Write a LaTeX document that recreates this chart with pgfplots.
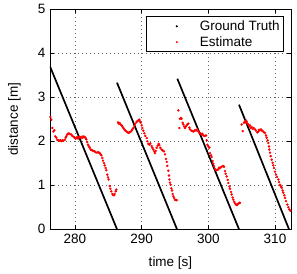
\documentclass[border=0pt]{standalone}
\usepackage{fontspec}
\setmainfont{Liberation Sans}
\usepackage{pgfplots}
\pgfplotsset{compat=1.18}
\begin{document}
\fontsize{13.5bp}{16bp}\selectfont
\begin{tikzpicture}
\begin{axis}[
  width=241bp, height=220bp, scale only axis,
  xmin=276.25, xmax=312.4, ymin=0, ymax=5,
  xtick={280,290,300,310}, ytick={0,1,2,3,4,5},
  tick align=inside, tick pos=both,
  major tick length=4bp,
  tick style={black, line width=0.5bp},
  grid=major,
  major grid style={black!60, line width=0.6bp, dash pattern=on 0.7bp off 3.3bp},
  axis line style={black, line width=0.8bp},
  xlabel={time [s]}, ylabel={distance [m]},
  xlabel style={yshift=-4bp},
  ylabel style={yshift=8bp},
  /pgf/number format/assume math mode=true,
  ticklabel style={font=\fontsize{13.5bp}{16bp}\selectfont},
  label style={font=\fontsize{13.5bp}{16bp}\selectfont},
  unbounded coords=jump,
  legend cell align=left,
  legend style={at={(rel axis cs:0.971,0.968)}, anchor=north east,
    draw=black, line width=0.8bp, inner xsep=2bp, inner ysep=1.8bp,
    font=\fontsize{13.5bp}{16bp}\selectfont,
    row sep=0bp},
]
\addplot[black, line width=1.7bp,
  legend image code/.code={\path[draw=none] (-11bp,0bp) -- (38bp,0bp); \fill[draw=none,black] (17bp,0bp) circle (1.2bp);}]
  coordinates {
  (276.25,3.70) (286.3,0)
  (286.3,nan)
  (286.3,3.33) (295.3,0)
  (295.3,nan)
  (295.35,3.42) (304.6,0)
  (304.6,nan)
  (304.6,2.83) (312.1,0)
};
\addlegendentry{Ground Truth}
\addplot[only marks, mark=*, mark size=1.0bp, red, mark options={draw=red, fill=red},
  legend image code/.code={\path[draw=none] (-11bp,0bp) -- (38bp,0bp); \fill[draw=none,red] (17bp,0bp) circle (1.2bp);}]
  coordinates {
  (276.3,2.55) (276.45,2.49) (276.6,2.3) (276.75,2.22) (276.9,2.25) (277.05,2.11)
  (277.2,2.08) (277.35,2.03) (277.5,2.02) (277.65,2.01) (277.8,2.02) (277.95,2.0)
  (278.1,2.02) (278.25,2.01) (278.45,2.03) (278.6,2.08) (278.7,2.11) (278.85,2.15)
  (278.95,2.17) (279.1,2.18) (279.25,2.16) (279.45,2.15) (279.6,2.12) (279.8,2.1)
  (279.95,2.08) (280.1,2.06) (280.3,2.09) (280.45,2.06) (280.6,2.1) (280.75,2.08)
  (280.9,2.1) (281.05,2.07) (281.2,2.11) (281.35,2.09) (281.45,2.1) (281.6,2.07)
  (281.7,2.04) (281.85,1.98) (281.95,1.92) (282.1,1.88) (282.2,1.85) (282.35,1.81)
  (282.45,1.8) (282.6,1.79) (282.75,1.78) (282.95,1.77) (283.1,1.75) (283.3,1.74)
  (283.45,1.75) (283.6,1.74) (283.7,1.73) (283.85,1.7) (283.95,1.68) (284.1,1.62)
  (284.2,1.56) (284.35,1.5) (284.45,1.45) (284.6,1.39) (284.7,1.34) (284.85,1.24)
  (284.95,1.18) (285.05,1.13) (285.2,0.98) (285.3,0.92) (285.45,0.86) (285.6,0.8)
  (285.7,0.78) (285.85,0.77) (285.95,0.8) (286.1,0.86) (286.2,0.9)
  (286.45,2.43) (286.55,2.4) (286.7,2.41) (286.85,2.38) (287.0,2.36) (287.1,2.33)
  (287.25,2.3) (287.4,2.27) (287.55,2.24) (287.75,2.22) (287.9,2.2) (288.05,2.19)
  (288.15,2.2) (288.3,2.21) (288.5,2.24) (288.6,2.27) (288.75,2.3) (288.9,2.35)
  (289.05,2.4) (289.25,2.44) (289.4,2.46) (289.55,2.48) (289.65,2.49) (289.75,2.45)
  (289.85,2.42) (290.0,2.36) (290.1,2.3) (290.25,2.24) (290.4,2.18) (290.55,2.12)
  (290.75,2.07) (290.85,2.0) (291.0,1.94) (291.15,1.92) (291.3,1.95) (291.5,1.89)
  (291.6,1.85) (291.75,1.81) (291.9,1.76) (292.0,1.73) (292.1,1.78) (292.25,1.85)
  (292.4,1.9) (292.55,1.94) (292.65,1.91) (292.8,1.85) (293.0,1.81) (293.15,1.79)
  (293.35,1.77) (293.5,1.7) (293.65,1.6) (293.75,1.53) (293.85,1.44) (294.0,1.33)
  (294.1,1.22) (294.15,1.13) (294.25,1.06) (294.35,1.01) (294.45,0.93) (294.55,0.88)
  (294.65,0.8) (294.75,0.75) (294.85,0.71) (295.0,0.67) (295.15,0.66) (295.25,0.66)
  (295.5,2.7) (295.65,2.3) (295.75,2.51) (295.9,2.53) (296.0,2.51) (296.15,2.42)
  (296.25,2.38) (296.4,2.33) (296.5,2.3) (296.6,2.33) (296.75,2.36) (296.9,2.39)
  (297.0,2.4) (297.15,2.31) (297.25,2.27) (297.45,2.24) (297.65,2.23) (297.8,2.22)
  (298.0,2.25) (298.15,2.24) (298.35,2.27) (298.5,2.22) (298.65,2.19) (298.8,2.18)
  (299.0,2.15) (299.1,2.17) (299.25,2.13) (299.45,2.12) (299.65,2.13) (299.75,2.02)
  (299.85,1.92) (300.0,1.88) (300.15,1.85) (300.25,1.73) (300.4,1.68) (300.5,1.64)
  (300.65,1.55) (300.75,1.49) (300.85,1.43) (301.0,1.37) (301.15,1.34) (301.35,1.35)
  (301.5,1.36) (301.6,1.4) (301.75,1.39) (301.9,1.41) (302.0,1.42) (302.2,1.44)
  (302.35,1.42) (302.5,1.32) (302.6,1.26) (302.75,1.2) (302.9,1.12) (303.0,1.05)
  (303.15,0.97) (303.25,0.92) (303.4,0.85) (303.5,0.79) (303.65,0.72) (303.75,0.67)
  (303.9,0.62) (304.05,0.58) (304.15,0.56) (304.3,0.55) (304.5,0.58) (304.65,0.6)
  (304.75,0.6)
  (305.0,2.38) (305.15,2.23) (305.35,2.42) (305.5,2.44) (305.65,2.47) (305.75,2.44)
  (305.85,2.4) (306.0,2.38) (306.15,2.34) (306.25,2.36) (306.35,2.3) (306.5,2.32)
  (306.65,2.28) (306.8,2.3) (307.0,2.27) (307.15,2.24) (307.35,2.2) (307.5,2.22)
  (307.6,2.26) (307.75,2.25) (307.9,2.27) (308.05,2.24) (308.15,2.23) (308.35,2.2)
  (308.5,2.19) (308.65,2.13) (308.75,2.08) (308.9,2.02) (309.0,1.96) (309.1,1.88)
  (309.15,1.81) (309.25,1.74) (309.35,1.66) (309.5,1.58) (309.65,1.51) (309.75,1.45)
  (309.85,1.39) (310.0,1.31) (310.15,1.24) (310.3,1.19) (310.5,1.13) (310.6,1.07)
  (310.75,1.01) (310.9,0.97) (311.0,0.94) (311.15,0.88) (311.25,0.83) (311.4,0.77)
  (311.5,0.71) (311.65,0.64) (311.85,0.56) (312.0,0.5) (312.15,0.45) (312.3,0.42)
};
\addlegendentry{Estimate}
\end{axis}
\path ([xshift=-50bp,yshift=-42bp]current axis.south west) rectangle ([xshift=6bp,yshift=8bp]current axis.north east);
\end{tikzpicture}
\end{document}
